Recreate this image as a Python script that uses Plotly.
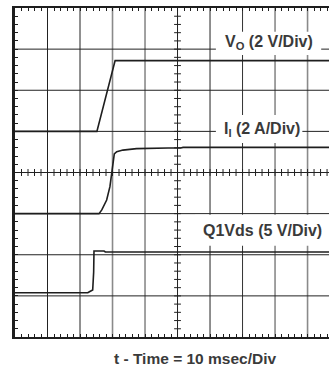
import plotly.graph_objects as go

# Oscilloscope screen: 10 ms per horizontal division, 8 vertical divisions
MS_PER_DIV = 10.0
X_END = 96.6          # visible part of the 10-division screen (ms)
N_YDIV = 8

# Channel settings: ground level (in divisions from bottom) and scale per division
VO_GND, VO_SCALE = 5.0, 2.0      # V/div
II_GND, II_SCALE = 3.0, 2.0      # A/div
VDS_GND, VDS_SCALE = 1.077, 5.0  # V/div

# V_O trace (ms, V)
vo_t = [0.0, 25.2, 30.8, 96.6]
vo_v = [0.0, 0.0, 3.44, 3.44]

# I_I trace (ms, A)
ii_t = [0.0, 25.85, 26.7, 28.2, 29.2, 29.75, 30.15, 30.55, 31.3, 32.3, 33.2, 37.4, 40.5, 47.1, 51.0, 51.7, 96.6]
ii_a = [0.0, 0.0, 0.18, 0.66, 1.31, 1.96, 2.46, 2.90, 3.01, 3.06, 3.09, 3.16, 3.18, 3.19, 3.19, 3.22, 3.22]

# Q1 drain-source voltage (ms, V)
vds_t = [0.0, 22.4, 22.9, 23.9, 24.2, 24.3, 27.4, 27.8, 96.6]
vds_v = [0.0, 0.0, 0.12, 0.33, 2.5, 5.07, 5.07, 4.95, 4.95]

# Channel labels
label_vo = "<b>V<sub>O</sub> (2 V/Div)</b>"
label_ii = "<b>I<sub>I</sub> (2 A/Div)</b>"
label_vds = "<b>Q1Vds (5 V/Div)</b>"
x_title = "<b>t - Time = 10 msec/Div</b>"

# Vertical grid line shading per division (1..9)
vgrid_colors = ["#222222", "#222222", "#8a8a8a", "#8a8a8a", "#222222",
                "#222222", "#333333", "#8a8a8a", "#8a8a8a"]
vgrid_widths = [1, 1, 1.6, 1.6, 1, 1, 1, 1.6, 1.6]

TRACE_COLOR = "#1e1e1e"
TEXT_COLOR = "#3a3a3a"
FONT = "Liberation Sans, Arial, sans-serif"


def to_div(values, gnd, scale):
    return [gnd + v / scale for v in values]


fig = go.Figure()
for t, y in [(vo_t, to_div(vo_v, VO_GND, VO_SCALE)),
             (ii_t, to_div(ii_a, II_GND, II_SCALE)),
             (vds_t, to_div(vds_v, VDS_GND, VDS_SCALE))]:
    fig.add_trace(go.Scatter(x=t, y=y, mode="lines",
                             line=dict(color=TRACE_COLOR, width=1.6),
                             hoverinfo="skip", showlegend=False))

shapes = []
# graticule
for i in range(1, 10):
    xv = i * MS_PER_DIV
    shapes.append(dict(type="line", layer="below", xref="x", yref="y",
                       x0=xv, x1=xv, y0=0, y1=N_YDIV,
                       line=dict(color=vgrid_colors[i - 1], width=vgrid_widths[i - 1])))
for j in range(1, N_YDIV):
    shapes.append(dict(type="line", layer="below", xref="x", yref="y",
                       x0=0, x1=X_END, y0=j, y1=j,
                       line=dict(color="#222222", width=1)))

# minor ticks along the centre cross
cx, cy = 5 * MS_PER_DIV, N_YDIV / 2
k = 1
while k * 2.0 < X_END:
    xv = k * 2.0
    shapes.append(dict(type="line", layer="below", xref="x", yref="y",
                       x0=xv, x1=xv, y0=cy - 0.085, y1=cy + 0.085,
                       line=dict(color="#222222", width=1)))
    k += 1
for k in range(1, N_YDIV * 5):
    yv = k * 0.2
    shapes.append(dict(type="line", layer="below", xref="x", yref="y",
                       x0=cx - 1.05, x1=cx + 1.05, y0=yv, y1=yv,
                       line=dict(color="#222222", width=1)))

# white backing behind the channel labels
for x0, x1, y0, y1 in [(61.8, 94.2, 6.86, 7.42),
                       (61.8, 88.4, 4.72, 5.40),
                       (55.4, X_END, 2.22, 2.975)]:
    shapes.append(dict(type="rect", layer="below", xref="x", yref="y",
                       x0=x0, x1=x1, y0=y0, y1=y1,
                       fillcolor="white", line=dict(width=0)))

label_font = dict(family=FONT, size=16, color=TEXT_COLOR)
annotations = [
    dict(x=78.0, y=7.15, xref="x", yref="y", text=label_vo, showarrow=False,
         font=label_font, xanchor="center", yanchor="middle"),
    dict(x=76.0, y=5.04, xref="x", yref="y", text=label_ii, showarrow=False,
         font=label_font, xanchor="center", yanchor="middle"),
    dict(x=76.2, y=2.58, xref="x", yref="y", text=label_vds, showarrow=False,
         font=label_font, xanchor="center", yanchor="middle"),
    dict(x=0.573, y=-0.064, xref="paper", yref="paper", text=x_title, showarrow=False,
         font=dict(family=FONT, size=15.5, color=TEXT_COLOR),
         xanchor="center", yanchor="middle"),
]

fig.update_layout(
    width=329, height=366, autosize=False,
    margin=dict(l=15, r=0, t=8, b=29),
    paper_bgcolor="white", plot_bgcolor="white",
    shapes=shapes, annotations=annotations,
    xaxis=dict(range=[0, X_END], showgrid=False, zeroline=False,
               showline=True, linecolor="#1e1e1e", linewidth=2, mirror="ticks",
               ticks="inside", ticklen=3, tickcolor="#1e1e1e", dtick=MS_PER_DIV,
               minor=dict(ticks="inside", ticklen=3, dtick=2.0, tickcolor="#1e1e1e"),
               showticklabels=False, fixedrange=True),
    yaxis=dict(range=[0, N_YDIV], showgrid=False, zeroline=False,
               showline=True, linecolor="#1e1e1e", linewidth=3, mirror=False,
               ticks="inside", ticklen=3, tickcolor="#1e1e1e", dtick=1,
               minor=dict(ticks="inside", ticklen=3, dtick=0.2, tickcolor="#1e1e1e"),
               showticklabels=False, fixedrange=True),
)

fig.write_html("out.html", config={"displayModeBar": False})
